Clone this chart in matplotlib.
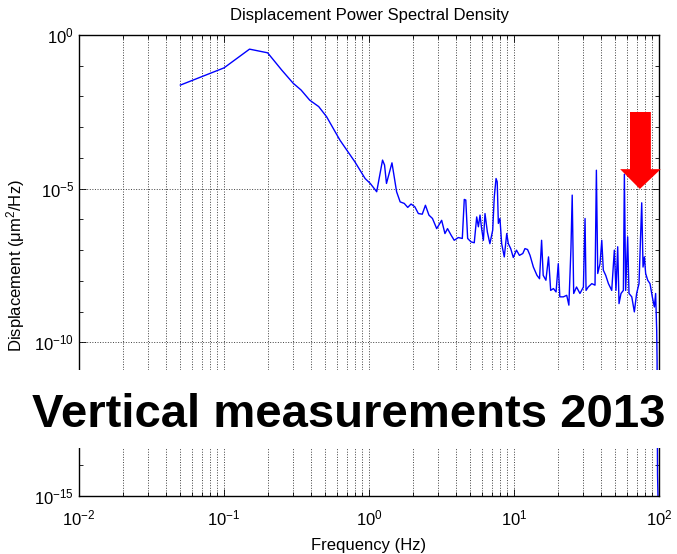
import numpy as np
import matplotlib
matplotlib.use('Agg')
from matplotlib import pyplot as plt
import matplotlib.patches as mpatches
from matplotlib.ticker import FixedLocator, NullFormatter

plt.rcParams['font.family'] = ['Liberation Sans', 'DejaVu Sans']
plt.rcParams['mathtext.fontset'] = 'custom'
plt.rcParams['mathtext.rm'] = 'Liberation Sans'
plt.rcParams['mathtext.it'] = 'Liberation Sans:italic'
plt.rcParams['mathtext.bf'] = 'Liberation Sans:bold'

# Spectrum: frequency (Hz) and log10 of PSD (um^2/Hz)
freq_hz = [
    0.05, 0.1, 0.15, 0.2, 0.25, 0.30, 0.34, 0.39, 0.45, 0.51, 0.63, 0.80, 0.94,
    1.02, 1.13, 1.24, 1.28, 1.32, 1.44, 1.55, 1.64, 1.75, 1.85, 1.95, 2.07,
    2.19, 2.33, 2.45, 2.59, 2.74, 2.93, 3.17, 3.34, 3.48, 3.68, 3.87, 4.13,
    4.40, 4.54, 4.65, 4.79, 5.05, 5.32, 5.53, 5.68, 5.83, 5.98, 6.15, 6.31,
    6.55, 6.82, 7.13, 7.31, 7.52, 7.66, 7.80, 8.00, 8.22, 8.57, 8.91, 9.14,
    9.49, 9.89, 10.4, 10.9, 11.5, 11.9, 12.4, 12.9, 13.6, 14.4, 15.0, 15.5,
    15.9, 16.6, 17.3, 17.9, 18.7, 19.5, 20.2, 20.7, 21.9, 23.1, 23.9, 24.7,
    25.2, 25.8, 27.0, 28.5, 30.1, 30.9, 31.4, 32.5, 34.4, 36.2, 37.0, 37.8,
    39.2, 40.3, 41.3, 42.9, 44.8, 47.2, 49.2, 50.5, 51.9, 53.0, 54.7, 56.8,
    57.7, 58.9, 60.8, 62.1, 64.9, 67.6, 70.1, 72.8, 74.3, 76.0, 77.6, 79.3,
    80.9, 83.6, 86.7, 89.9, 92.9, 94.8, 96.4, 97.0, 97.7, 98.9,
]
psd_log10 = [
    -1.63, -1.07, -0.46, -0.58, -1.14, -1.57, -1.79, -2.12, -2.33, -2.66, -3.42, -4.13, -4.67,
    -4.83, -5.10, -4.07, -4.23, -4.83, -4.16, -5.10, -5.43, -5.48, -5.61, -5.50, -5.59,
    -5.81, -5.83, -5.54, -5.86, -5.97, -6.30, -6.03, -6.46, -6.30, -6.51, -6.68, -6.59,
    -6.62, -5.35, -5.37, -6.62, -6.73, -6.76, -5.92, -6.24, -5.86, -6.30, -6.68, -5.81,
    -6.41, -6.79, -6.35, -5.27, -4.67, -4.78, -6.13, -5.97, -6.79, -7.22, -6.46, -6.79,
    -6.95, -7.24, -7.00, -7.17, -7.11, -6.95, -6.98, -7.17, -7.55, -7.82, -7.93, -6.68,
    -7.82, -7.98, -7.22, -8.31, -8.25, -8.36, -7.44, -8.52, -8.52, -8.47, -8.79, -6.95,
    -5.21, -8.41, -8.20, -8.41, -8.20, -5.97, -8.31, -8.20, -8.09, -8.14, -4.40, -7.76,
    -7.44, -6.68, -7.65, -7.82, -8.09, -8.31, -7.00, -8.31, -6.89, -8.74, -8.41, -8.31,
    -4.53, -8.31, -6.57, -8.41, -8.52, -9.01, -8.41, -8.09, -6.79, -5.46, -7.55, -7.22,
    -7.76, -7.98, -8.09, -8.52, -8.85, -8.41, -9.61, -10.59, -14.3, -15.5,
]

y_major = [1e-15, 1e-10, 1e-5, 1e0]
y_minor = [10.0 ** k for k in range(-14, 0) if k % 5 != 0]

fig = plt.figure(figsize=(6.77, 5.54), dpi=100)
ax = fig.add_axes([79 / 677, 1 - 496 / 554, 580 / 677, 461 / 554])

ax.plot(freq_hz, 10.0 ** np.array(psd_log10), color='#0000ff', lw=1.0)

ax.set_xscale('log')
ax.set_yscale('log')
ax.set_xlim(1e-2, 1e2)
ax.set_ylim(1e-15, 1e0)
ax.yaxis.set_major_locator(FixedLocator(y_major))
ax.yaxis.set_minor_locator(FixedLocator(y_minor))
ax.yaxis.set_minor_formatter(NullFormatter())

ax.tick_params(which='both', direction='in', top=True, right=True, labelsize=12, width=0.6)
ax.tick_params(which='major', length=5)
ax.tick_params(which='minor', length=3)
ax.tick_params(axis='x', which='major', pad=9)
for s in ax.spines.values():
    s.set_linewidth(1.0)

ax.grid(True, which='both', axis='x', ls=':', color='0.25', lw=0.7)
ax.grid(True, which='major', axis='y', ls=':', color='0.25', lw=0.7)

ax.set_title('Displacement Power Spectral Density', fontsize=12, pad=11)
ax.set_xlabel('Frequency (Hz)', fontsize=12, labelpad=7)
ax.set_ylabel('Displacement (μm$^2$/Hz)', fontsize=12, labelpad=5)

# Red arrow marking the peak
arrow = mpatches.Polygon(
    [(0.950, 0.833), (0.986, 0.833), (0.986, 0.709), (1.003, 0.709),
     (0.967, 0.666), (0.933, 0.709), (0.950, 0.709)],
    closed=True, transform=ax.transAxes, facecolor='#ff0000',
    edgecolor='none', clip_on=False, zorder=10)
ax.add_patch(arrow)

# White band with the caption across the plot
band = mpatches.Rectangle((0, 1 - 448 / 554), 1, 78 / 554, transform=fig.transFigure,
                          facecolor='white', edgecolor='none', zorder=5)
fig.patches.append(band)
fig.text(32 / 677, 1 - 427 / 554, 'Vertical measurements 2013', fontsize=34,
         weight='bold', ha='left', va='baseline', zorder=6)

fig.savefig('out.png', dpi=100)
